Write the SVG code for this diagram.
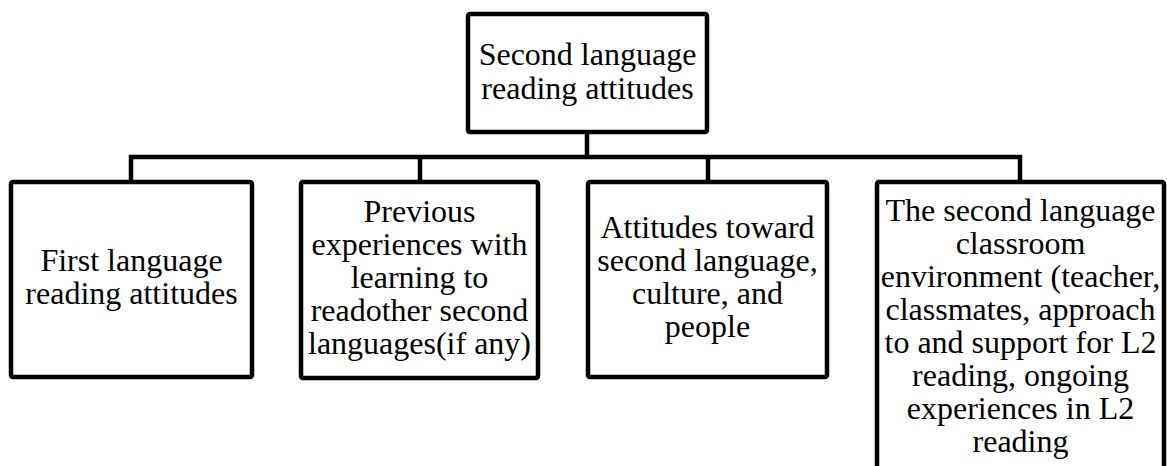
<svg xmlns="http://www.w3.org/2000/svg" width="1167" height="466" viewBox="0 0 1167 466">
<style>
.box{fill:#fff;stroke:#000;stroke-width:4.5;stroke-linejoin:round}
.conn{fill:none;stroke:#000;stroke-width:4.5;stroke-linecap:square;stroke-linejoin:miter}
text{font-family:"Liberation Serif","Times New Roman",serif;font-size:32px;fill:#000;text-anchor:middle}
</style>
<rect width="1167" height="466" fill="#fff"/>
<g id="connectors">
<path class="conn" d="M587 132V157M131 157H1020M131 157V182M420 157V182M708 157V182M1020 157V182"/>
</g>
<g id="root">
<rect class="box" x="468" y="14" width="239" height="118" rx="2"/>
<text x="587.5" y="65">Second language</text>
<text x="587.5" y="99">reading attitudes</text>
</g>
<g id="first-language">
<rect class="box" x="11" y="182" width="241" height="195" rx="2"/>
<text x="131.5" y="271">First language</text>
<text x="131.5" y="304">reading attitudes</text>
</g>
<g id="previous-experiences">
<rect class="box" x="301" y="182" width="237" height="196" rx="2"/>
<text x="419.5" y="222">Previous</text>
<text x="419.5" y="255">experiences with</text>
<text x="419.5" y="288">learning to</text>
<text x="419.5" y="321">readother second</text>
<text x="419.5" y="354">languages(if any)</text>
</g>
<g id="attitudes-toward">
<rect class="box" x="588" y="182" width="239" height="195" rx="2"/>
<text x="707.5" y="238">Attitudes toward</text>
<text x="707.5" y="271">second language,</text>
<text x="707.5" y="304">culture, and</text>
<text x="707.5" y="337">people</text>
</g>
<g id="classroom-environment">
<rect class="box" x="877" y="182" width="287" height="320" rx="2"/>
<text x="1020.5" y="221">The second language</text>
<text x="1020.5" y="254">classroom</text>
<text x="1020.5" y="287">environment (teacher,</text>
<text x="1020.5" y="320">classmates, approach</text>
<text x="1020.5" y="353">to and support for L2</text>
<text x="1020.5" y="386">reading, ongoing</text>
<text x="1020.5" y="419">experiences in L2</text>
<text x="1020.5" y="452">reading</text>
</g>
</svg>
